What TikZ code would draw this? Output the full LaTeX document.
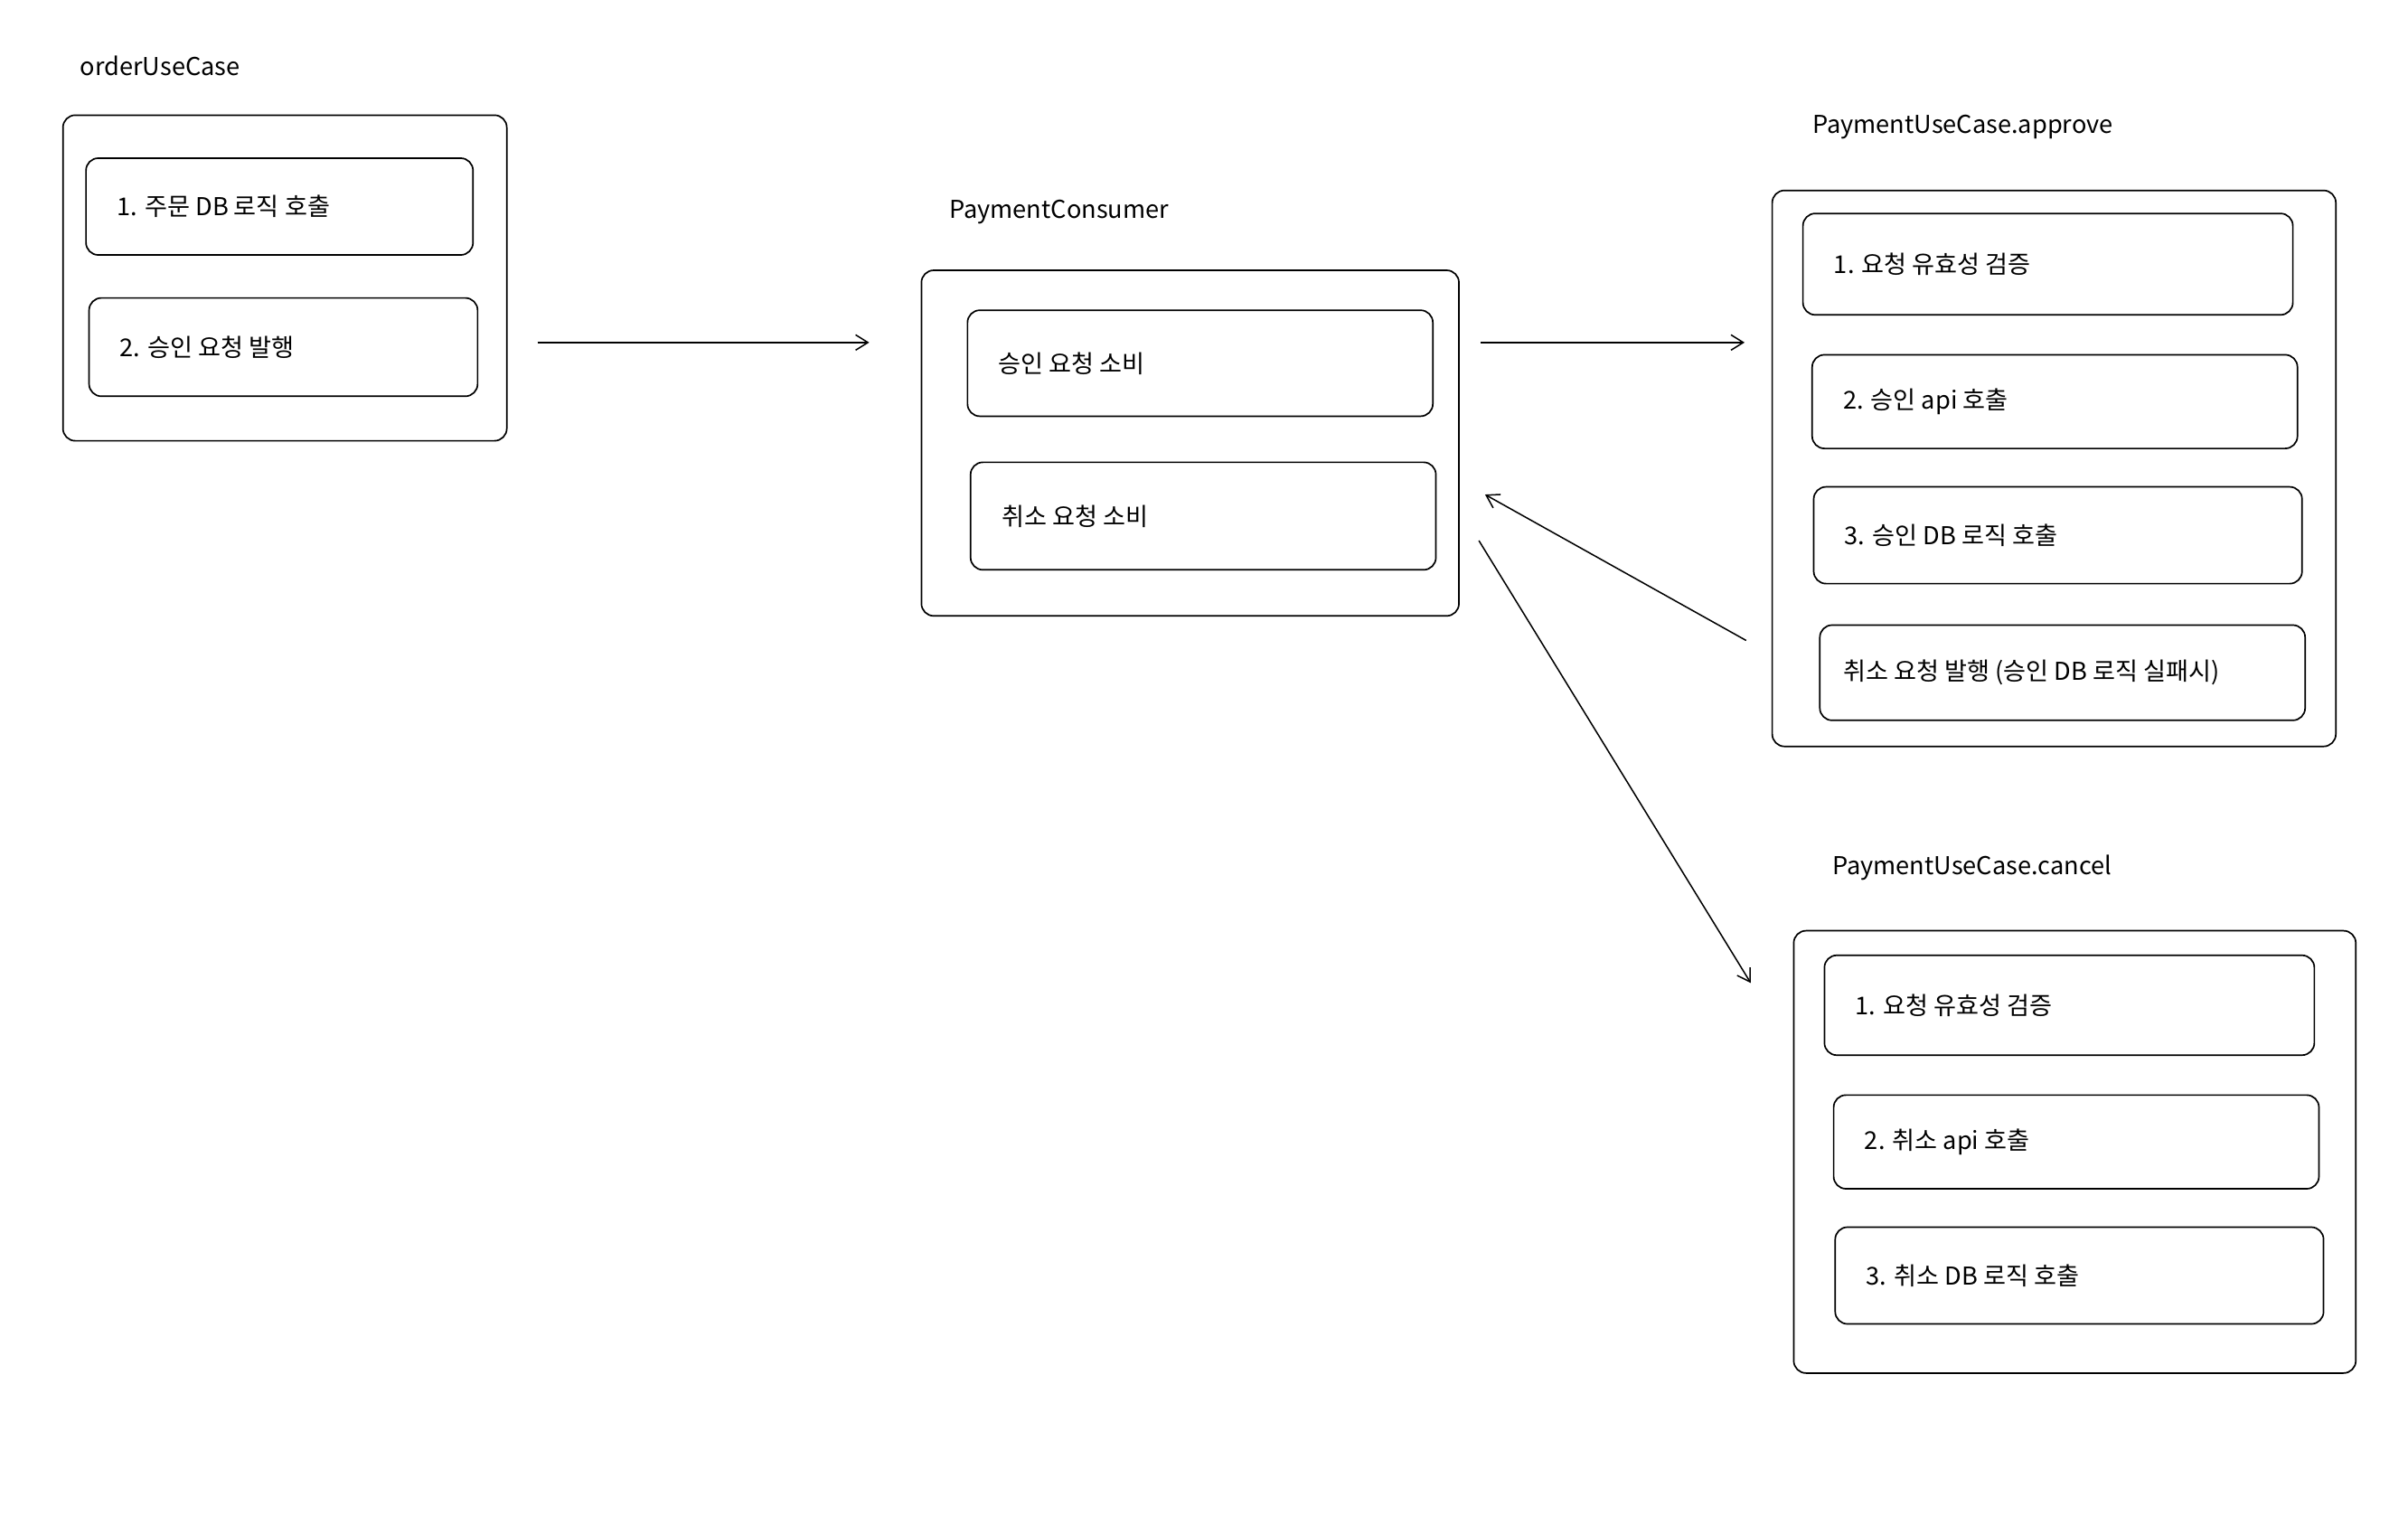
\documentclass[tikz,border=0pt]{standalone}
\usepackage{fontspec}
\setmainfont{Noto Sans CJK KR}
\usetikzlibrary{arrows.meta}
\begin{document}
\begin{tikzpicture}[x=1pt,y=-1pt,
  box/.style={draw,line width=1pt,rounded corners=8pt},
  lbl/.style={anchor=west,font=\fontsize{16}{19}\selectfont,inner sep=0pt},
  arr/.style={-{Straight Barb[length=8pt,width=10pt]},line width=0.9pt}]
\useasboundingbox (0,0) rectangle (1568,986.5);
\newcommand\bx[5]{\draw[box] (#1,#2) rectangle (#3,#4); \node[lbl] at (#1+20,{(#2+#4)/2}) {#5};}
% orderUseCase
\node[lbl] (l1) at (52,43) {orderUseCase};
\draw[box] (41,75) rectangle (330,287);
\bx{56}{103}{308}{166}{1. 주문 DB 로직 호출}
\bx{58}{194}{311}{258}{2. 승인 요청 발행}
% PaymentConsumer
\node[lbl] (l2) at (618,138) {PaymentConsumer};
\draw[box] (600,176) rectangle (950,401);
\bx{630}{202}{933}{271}{승인 요청 소비}
\bx{632}{301}{935}{371}{취소 요청 소비}
% approve
\node[lbl] (l3) at (1180,83) {PaymentUseCase.approve};
\draw[box] (1154,124) rectangle (1521,486);
\bx{1174}{139}{1493}{205}{1. 요청 유효성 검증}
\bx{1180}{231}{1496}{292}{2. 승인 api 호출}
\bx{1181}{317}{1499}{380}{3. 승인 DB 로직 호출}
\draw[box] (1185,407) rectangle (1501,469); \node[lbl] at (1200,438) {취소 요청 발행 (승인 DB 로직 실패시)};
% cancel
\node[lbl] (l4) at (1193,565) {PaymentUseCase.cancel};
\draw[box] (1168,606) rectangle (1534,894);
\bx{1188}{622}{1507}{687}{1. 요청 유효성 검증}
\bx{1194}{713}{1510}{774}{2. 취소 api 호출}
\bx{1195}{799}{1513}{862}{3. 취소 DB 로직 호출}
% arrows
\coordinate (a1) at (350,223); \coordinate (a2) at (566,223);
\coordinate (b1) at (964,223); \coordinate (b2) at (1136,223);
\coordinate (c1) at (1137,417); \coordinate (c2) at (967,322);
\coordinate (d1) at (963,352); \coordinate (d2) at (1140,640);
\draw[arr] (a1) -- (a2);
\draw[arr] (b1) -- (b2);
\draw[arr] (c1) -- (c2);
\draw[arr] (d1) -- (d2);
\end{tikzpicture}
\end{document}
